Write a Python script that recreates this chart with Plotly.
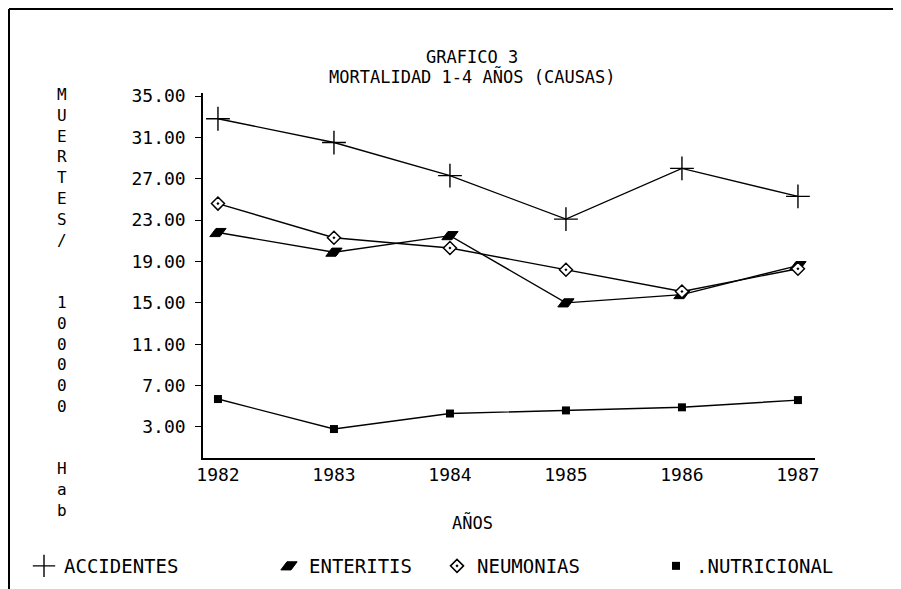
import plotly.graph_objects as go

years = [1982, 1983, 1984, 1985, 1986, 1987]
accidentes = [32.8, 30.5, 27.3, 23.1, 28.0, 25.3]
enteritis = [21.8, 19.9, 21.5, 15.0, 15.8, 18.6]
neumonias = [24.6, 21.3, 20.3, 18.2, 16.1, 18.3]
nutricional = [5.7, 2.8, 4.3, 4.6, 4.9, 5.6]
y_ticks = [3, 7, 11, 15, 19, 23, 27, 31, 35]
series_names = ["ACCIDENTES", "ENTERITIS", "NEUMONIAS", ".NUTRICIONAL"]

OFF = 8  # page body margin
W, H = 901 - OFF, 589 - OFF
# plot area in screenshot pixels
L, R, T, B = 203, 815, 93, 458
PW, PH = R - L, B - T
FONT = "DejaVu Sans Mono"


def px(x):
    return (x - L) / PW


def py(y):
    return (B - y) / PH


markers = [
    dict(symbol="cross-thin", size=17, color="black", line=dict(color="black", width=1.4)),
    dict(symbol="diamond-wide", size=13, angle=-26.57, color="black", line=dict(color="black", width=1)),
    dict(symbol="diamond-dot", size=10, color="white", line=dict(color="black", width=1.5)),
    dict(symbol="square", size=8, color="black", line=dict(color="black", width=0)),
]
values = [accidentes, enteritis, neumonias, nutricional]

fig = go.Figure()
for name, vals, mk in zip(series_names, values, markers):
    fig.add_trace(go.Scatter(x=years, y=vals, mode="lines+markers", name=name,
                             line=dict(color="black", width=1.4), marker=mk,
                             showlegend=False))

legend_ids = ["legend", "legend2", "legend3", "legend4"]
legend_starts = [24, 269, 437, 656]
for name, mk, lid in zip(series_names, markers, legend_ids):
    fig.add_trace(go.Scatter(x=[None], y=[None], mode="markers", name=name,
                             marker=mk, legend=lid, showlegend=True))

layout_legends = {}
for lid, s in zip(legend_ids, legend_starts):
    layout_legends[lid] = dict(x=px(s), xanchor="left", y=py(566), yanchor="middle",
                               bgcolor="rgba(0,0,0,0)", borderwidth=0,
                               font=dict(family=FONT, size=19, color="black"))

fig.update_layout(
    width=W, height=H,
    margin=dict(l=L - OFF, r=W - (R - OFF), t=T - OFF, b=H - (B - OFF), pad=0, autoexpand=False),
    paper_bgcolor="white", plot_bgcolor="white",
    font=dict(family=FONT, size=17, color="black"),
    **layout_legends,
)

fig.update_xaxes(range=[1981.871, 1987.147], tickvals=years, ticktext=[str(y) for y in years],
                 showline=True, linecolor="black", linewidth=1.5, showgrid=False, zeroline=False,
                 ticks="", tickfont=dict(family=FONT, size=18))
fig.update_yaxes(range=[0.0, 35.29], tickvals=y_ticks, ticktext=[f"{v:.2f}" for v in y_ticks],
                 showline=True, linecolor="black", linewidth=1.5, showgrid=False, zeroline=False,
                 ticks="outside", ticklen=6, tickcolor="black", tickwidth=1.2,
                 tickfont=dict(family=FONT, size=18), ticklabelstandoff=6)

# Titles
fig.add_annotation(text="GRAFICO 3", x=px(472), y=py(57), xref="paper", yref="paper",
                   showarrow=False, xanchor="center", yanchor="middle",
                   font=dict(family=FONT, size=17))
fig.add_annotation(text="MORTALIDAD 1-4 AÑOS (CAUSAS)", x=px(472), y=py(76), xref="paper", yref="paper",
                   showarrow=False, xanchor="center", yanchor="middle",
                   font=dict(family=FONT, size=17))
fig.add_annotation(text="AÑOS", x=px(472), y=py(522), xref="paper", yref="paper",
                   showarrow=False, xanchor="center", yanchor="middle",
                   font=dict(family=FONT, size=17))

ylabel = list("MUERTES/") + ["", ""] + list("100000") + ["", ""] + list("Hab")
fig.add_annotation(text="<br>".join(c if c else " " for c in ylabel),
                   x=px(62), y=py(83), xref="paper", yref="paper",
                   showarrow=False, xanchor="center", yanchor="top", align="center",
                   font=dict(family=FONT, size=16))

# Frame lines of the scanned page
fig.add_shape(type="line", xref="paper", yref="paper", x0=px(9), x1=px(901), y0=py(9), y1=py(9),
              line=dict(color="black", width=2))
fig.add_shape(type="line", xref="paper", yref="paper", x0=px(9), x1=px(9), y0=py(9), y1=py(589),
              line=dict(color="black", width=2))

fig.write_html("out.html")
